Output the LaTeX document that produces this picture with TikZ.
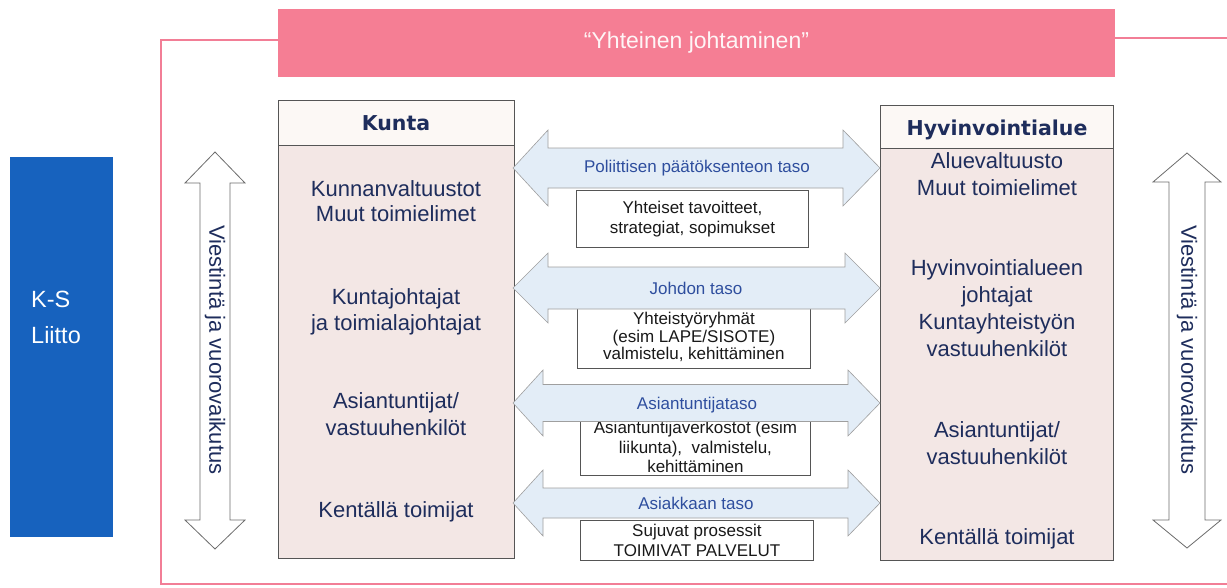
\documentclass[tikz,border=0pt]{standalone}
\usepackage{fontspec}
\setmainfont{Liberation Sans}
\newfontfamily\hdfont{DejaVu Sans}
\definecolor{framepink}{HTML}{F27E96}
\definecolor{bannerpink}{HTML}{F57E94}
\definecolor{navy}{HTML}{1E2D5C}
\definecolor{lblblue}{HTML}{2E4E9E}
\definecolor{ksblue}{HTML}{1762BE}
\definecolor{bodyfill}{HTML}{F3E7E5}
\definecolor{headfill}{HTML}{FCF8F5}
\definecolor{arrowfill}{HTML}{E3EDF7}
\definecolor{boxline}{HTML}{555555}
\newcommand{\hdarrow}[5]{%
  \draw[harrow] (513,#1) -- (#4,#1-#3) -- (#4,#1-#2) -- (#5,#1-#2) -- (#5,#1-#3) -- (880,#1)
    -- (#5,#1+#3) -- (#5,#1+#2) -- (#4,#1+#2) -- (#4,#1+#3) -- cycle;}
\begin{document}
\begin{tikzpicture}[x=1pt,y=-1pt,
  banner/.style={fill=bannerpink, draw=none, minimum width=837pt, minimum height=68pt, inner sep=0pt,
    text=white!92!bannerpink, font=\fontsize{23}{26}\selectfont},
  colhead/.style={draw=boxline, line width=0.9pt, fill=headfill, anchor=north west, inner sep=0pt},
  colbody/.style={draw=boxline, line width=0.9pt, fill=bodyfill, anchor=north west, inner sep=0pt},
  hdtext/.style={anchor=base, text=navy, font=\hdfont\bfseries\fontsize{20.5}{24}\selectfont, inner sep=0pt},
  coltext/.style={anchor=base, text=navy, align=center, inner sep=0pt},
  harrow/.style={fill=arrowfill, draw=gray!75, line width=0.6pt},
  varrow/.style={fill=white, draw=gray!85!black, line width=0.8pt},
  lbl/.style={text=lblblue, font=\fontsize{17}{20}\selectfont, inner sep=0pt},
  midbox/.style={draw=boxline, line width=0.9pt, fill=white, anchor=north west, inner sep=0pt},
  boxtext/.style={text=black!90, align=center, inner sep=0pt},
  vtext/.style={rotate=-90, text=navy, font=\fontsize{22}{24}\selectfont, inner sep=0pt},
]
\useasboundingbox (0,0) rectangle (1227,587);

% outer pink frame
\draw[framepink, line width=1.1pt] (281,40) -- (161,40) -- (161,584) -- (1227,584);
\draw[framepink, line width=1.1pt] (1114,38) -- (1227,38);

% banner
\node[banner] (banner) at (696.5,43) {“Yhteinen johtaminen”};

% K-S Liitto
\node[fill=ksblue, draw=none, minimum width=103pt, minimum height=380pt, anchor=north west, inner sep=0pt] (ks) at (10,157) {};
\node[anchor=base west, align=left, text=white, font=\fontsize{23.5}{36}\selectfont, inner sep=0pt] (kstext) at (31,343) {K-S\\Liitto};

% vertical arrows
\draw[varrow] (215,152) -- (245,183) -- (230,183) -- (230,520) -- (245,520) -- (215,549)
  -- (185,520) -- (200,520) -- (200,183) -- (185,183) -- cycle;
\node[vtext] (vl) at (215,350) {Viestintä ja vuorovaikutus};
\draw[varrow] (1187,153) -- (1221,182) -- (1205,182) -- (1205,520) -- (1221,520) -- (1187,548)
  -- (1153,520) -- (1169,520) -- (1169,182) -- (1153,182) -- cycle;
\node[vtext] (vr) at (1187,350) {Viestintä ja vuorovaikutus};

% Kunta column
\node[colbody, minimum width=236pt, minimum height=413pt] (kb) at (278,145) {};
\node[colhead, minimum width=236pt, minimum height=45pt] (kh) at (278,100) {};
\node[hdtext] (khtext) at (396,130) {Kunta};
\begin{scope}[every node/.append style={font=\fontsize{22}{25}\selectfont}]
\node[coltext] (k1) at (396,221) {Kunnanvaltuustot\\Muut toimielimet};
\node[coltext, font=\fontsize{22}{26}\selectfont] (k2) at (396,330) {Kuntajohtajat\\ja toimialajohtajat};
\node[coltext, font=\fontsize{22}{27}\selectfont] (k3) at (396,435) {Asiantuntijat/\\vastuuhenkilöt};
\node[coltext] (k4) at (396,517) {Kentällä toimijat};
\end{scope}

% Hyvinvointialue column
\node[colbody, minimum width=233pt, minimum height=412pt] (hb) at (880,148) {};
\node[colhead, minimum width=233pt, minimum height=43pt] (hh) at (880,105) {};
\node[hdtext] (hhtext) at (997,135) {Hyvinvointialue};
\begin{scope}[every node/.append style={font=\fontsize{22}{27}\selectfont}]
\node[coltext] (h1) at (997,195) {Aluevaltuusto\\Muut toimielimet};
\node[coltext] (h2) at (997,356) {Hyvinvointialueen\\johtajat\\Kuntayhteistyön\\vastuuhenkilöt};
\node[coltext] (h3) at (997,464) {Asiantuntijat/\\vastuuhenkilöt};
\node[coltext] (h4) at (997,544) {Kentällä toimijat};
\end{scope}

% level 1
\hdarrow{168}{20}{38}{548}{843}
\node[lbl] (l1) at (697,168) {Poliittisen päätöksenteon taso};
\node[midbox, minimum width=232pt, minimum height=57pt] (b1) at (576,190) {};
\node[boxtext, font=\fontsize{17}{20}\selectfont] (b1t) at (b1.center) {Yhteiset tavoitteet,\\strategiat, sopimukset};

% level 2
\node[midbox, minimum width=233pt, minimum height=63pt] (b2) at (577,305) {};
\node[boxtext, font=\fontsize{17}{17.5}\selectfont] (b2t) at (b2.center) {Yhteistyöryhmät\\(esim LAPE/SISOTE)\\valmistelu, kehittäminen};
\hdarrow{288}{21}{35}{548}{845}
\node[lbl] (l2) at (696,288) {Johdon taso};

% level 3
\node[midbox, minimum width=230pt, minimum height=55pt] (b3) at (580,420) {};
\node[boxtext, font=\fontsize{17}{19.5}\selectfont] (b3t) at ([yshift=1pt]b3.center) {Asiantuntijaverkostot (esim\\liikunta),\ \ valmistelu,\\kehittäminen};
\hdarrow{403}{18.5}{33}{543}{848}
\node[lbl] (l3) at (697,405) {Asiantuntijataso};

% level 4
\hdarrow{503}{15}{33}{543}{848}
\node[lbl] (l4) at (696,503) {Asiakkaan taso};
\node[midbox, minimum width=233pt, minimum height=40pt] (b4) at (580,520) {};
\node[boxtext, font=\fontsize{17}{20}\selectfont] (b4t) at (b4.center) {Sujuvat prosessit\\TOIMIVAT PALVELUT};
\end{tikzpicture}
\end{document}
